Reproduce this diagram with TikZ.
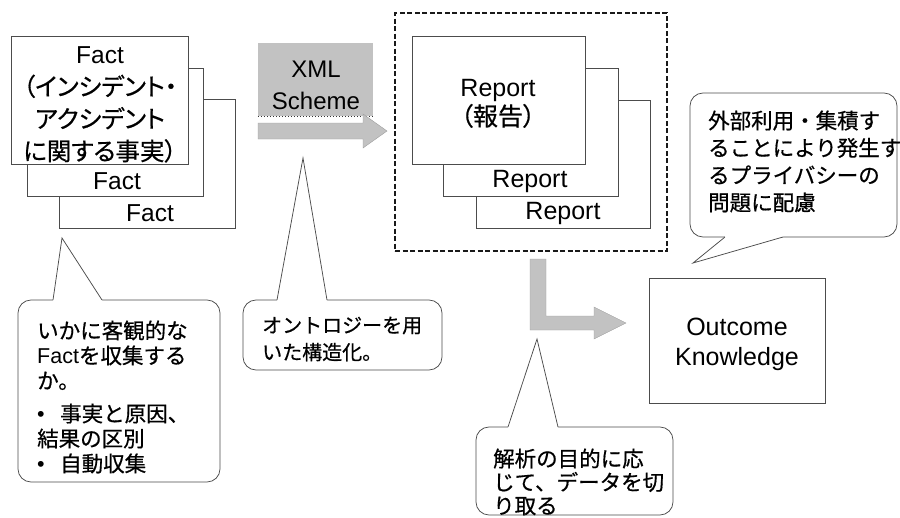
\documentclass[tikz,border=0pt]{standalone}
\usepackage{fontspec}
\setmainfont{Liberation Sans}
\newfontfamily\jp[FakeBold=0.6]{Noto Sans CJK JP}
\newfontfamily\jpp[RawFeature=+palt, FakeBold=0.6]{Noto Sans CJK JP}
\tikzset{
  plainbox/.style={draw=black!70, line width=0.75pt, fill=white, inner sep=0pt},
  bubblebox/.style={draw=black!70, line width=0.75pt, fill=white, rounded corners=13pt, inner sep=0pt},
  pointerline/.style={draw=black!70, line width=0.75pt},
  blockarrow/.style={fill=black!24, draw=black!38, line width=0.4pt},
  frame/.style={draw=black!90, line width=2pt, dash pattern=on 5pt off 2.5pt},
  bigtext/.style={align=center, inner sep=0pt, font=\fontsize{24.5}{32.3}\selectfont},
  bubtext/.style={align=left, inner sep=0pt, anchor=west},
}
\begin{document}
\begin{tikzpicture}[x=1pt, y=-1pt]
\useasboundingbox (0,0) rectangle (900,517);

% ---- Fact stack
\node[plainbox, minimum width=176pt, minimum height=129pt] (f3) at (147,163.5) {};
\node[plainbox, minimum width=176pt, minimum height=128pt] (f2) at (115,132) {};
\node[plainbox, minimum width=177pt, minimum height=128pt] (f1) at (99.5,100) {};
\node[bigtext] (f1t) at (100,104.5) {Fact\\{\jpp （インシデント・}\\{\jpp アクシデント}\\{\jpp に関する事実）}};
\node[bigtext] (f2t) at (117,181) {Fact};
\node[bigtext] (f3t) at (150,213) {Fact};

% ---- XML Scheme
\node[fill=black!24, minimum width=115pt, minimum height=73pt, inner sep=0pt] (xml) at (315.5,79.5) {};
\draw[black!80, line width=1pt, dotted] (xml.south west) -- (xml.south east);
\node[align=center, inner sep=0pt, font=\fontsize{24}{32}\selectfont] (xmlt) at (316,85) {XML\\Scheme};

% ---- straight block arrow
\draw[blockarrow] (258,123) -- (363,123) -- (363,114) -- (387,131) -- (363,148) -- (363,139) -- (258,139) -- cycle;

% ---- Report stack with dashed frame
\node[frame, minimum width=272pt, minimum height=238pt, inner sep=0pt] (rf) at (531,132) {};
\node[plainbox, minimum width=174pt, minimum height=128pt] (r3) at (563,164) {};
\node[plainbox, minimum width=175pt, minimum height=128pt] (r2) at (530.5,132) {};
\node[plainbox, minimum width=173pt, minimum height=128pt] (r1) at (498.5,100) {};
\node[bigtext, font=\fontsize{25}{29}\selectfont] (r1t) at (498,103.5) {Report\\{\jpp （報告）}};
\node[bigtext, font=\fontsize{25}{29}\selectfont] (r2t) at (530,181) {Report};
\node[bigtext, font=\fontsize{25}{29}\selectfont] (r3t) at (563,213) {Report};

% ---- L-shaped block arrow
\draw[blockarrow] (530,259) -- (546,259) -- (546,316) -- (594,316) -- (594,307) -- (626,323) -- (594,339) -- (594,330) -- (530,330) -- cycle;

% ---- Outcome Knowledge
\node[plainbox, minimum width=176pt, minimum height=125pt] (ok) at (737,340.5) {};
\node[bigtext, font=\fontsize{25}{30}\selectfont] (okt) at (737,344) {Outcome\\Knowledge};

% ---- Bubble 1 (bottom left)
\node[bubblebox, minimum width=202pt, minimum height=182pt] (b1) at (119,391) {};
\coordinate (b1tip) at (62,238);
\coordinate (b1l) at (53,300);
\coordinate (b1r) at (102,300);
\fill[white] (53,302.5) -- (b1l) -- (b1tip) -- (b1r) -- (102,302.5) -- cycle;
\draw[pointerline] (b1l) -- (b1tip) -- (b1r);
\node[bubtext, font=\fontsize{21.5}{25}\selectfont] (b1t) at (37,397) {{\jp いかに客観的な}\\Fact{\jp を収集する}\\{\jp か。}\\[8pt]\makebox[23pt][l]{•}{\jp 事実と原因、}\\{\jp 結果の区別}\\\makebox[23pt][l]{•}{\jp 自動収集}};

% ---- Bubble 2 (middle)
\node[bubblebox, minimum width=199pt, minimum height=70pt] (b2) at (342.5,335) {};
\coordinate (b2tip) at (303,158);
\coordinate (b2l) at (277,300);
\coordinate (b2r) at (327,300);
\fill[white] (277,302.5) -- (b2l) -- (b2tip) -- (b2r) -- (327,302.5) -- cycle;
\draw[pointerline] (b2l) -- (b2tip) -- (b2r);
\node[bubtext, font=\fontsize{20}{27}\selectfont] (b2t) at (262,339) {{\jp オントロジーを用}\\{\jp いた構造化。}};

% ---- Bubble 3 (top right)
\node[bubblebox, minimum width=207pt, minimum height=144pt] (b3) at (793.5,165) {};
\coordinate (b3tip) at (693,263);
\coordinate (b3l) at (725,237);
\coordinate (b3r) at (783,237);
\fill[white] (725,234.5) -- (b3l) -- (b3tip) -- (b3r) -- (783,234.5) -- cycle;
\draw[pointerline] (b3l) -- (b3tip) -- (b3r);
\node[bubtext, font=\fontsize{21.5}{27.3}\selectfont] (b3t) at (708,161.5) {{\jp 外部利用・集積す}\\{\jp ることにより発生す}\\{\jp るプライバシーの}\\{\jp 問題に配慮}};

% ---- Bubble 4 (bottom centre)
\node[bubblebox, minimum width=197pt, minimum height=88pt] (b4) at (574.5,471) {};
\coordinate (b4tip) at (537,339);
\coordinate (b4l) at (508,427);
\coordinate (b4r) at (558,427);
\fill[white] (508,429.5) -- (b4l) -- (b4tip) -- (b4r) -- (558,429.5) -- cycle;
\draw[pointerline] (b4l) -- (b4tip) -- (b4r);
\node[bubtext, font=\fontsize{21.5}{23.5}\selectfont] (b4t) at (493,482) {{\jp 解析の目的に応}\\{\jp じて、データを切}\\{\jp り取る}};
\end{tikzpicture}
\end{document}
